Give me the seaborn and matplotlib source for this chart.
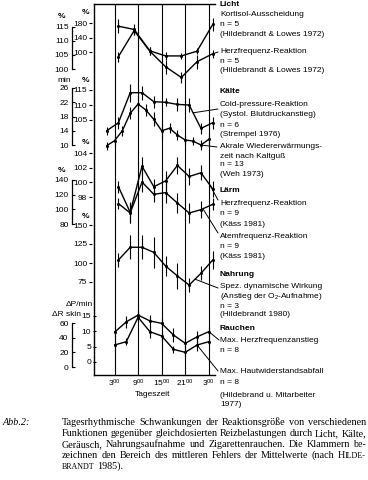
import numpy as np
import matplotlib
matplotlib.use("Agg")
import matplotlib.pyplot as plt
import seaborn as sns

# ---- values; x = hour of day (28 = 4 h next morning) ----
hour_ticks = [3, 9, 15, 21, 27]
hour_labels = ["$3^{00}$", "$9^{00}$", "$15^{00}$", "$21^{00}$", "$3^{00}$"]

# Licht
licht_hours = [4, 8, 12, 16, 20, 24, 28]
kortisol = [172, 163, 104, 90, 90, 103, 177]
kortisol_err = [19, 14, 11, 10, 8, 8, 17]
licht_hf = [104.4, 113.6, 106.3, 100.8, 97.0, 102.6, 105.4]
licht_hf_err = [1.8, 1.4, 1.4, 2.4, 2.1, 2.5, 1.4]

# Kälte
cold_hours = [1, 4, 7, 10, 13, 16, 19, 22, 25, 28]
cold_pressure = [101.4, 104.1, 114.1, 114.1, 111.1, 110.9, 110.2, 110.0, 102.2, 104.1]
cold_pressure_err = [1.3, 2.0, 3.0, 2.3, 2.0, 1.3, 2.3, 2.3, 1.7, 2.0]
akral_hours = [1, 3, 5, 7, 9, 11, 13, 15, 17, 19, 21, 23, 25, 27]
akral = [9.8, 11.2, 14.0, 18.9, 21.5, 19.8, 17.2, 14.0, 14.7, 12.8, 11.4, 11.1, 10.0, 11.6]
akral_err = [1.1, 1.4, 1.4, 1.7, 2.2, 1.7, 2.0, 2.2, 1.4, 1.4, 1.4, 1.1, 1.4, 1.4]

# Lärm
laerm_hours = [4, 7, 10, 13, 16, 19, 22, 25, 28]
laerm_hf = [99.4, 95.9, 102.2, 99.4, 100.2, 102.3, 100.8, 101.3, 99.1]
laerm_hf_err = [0.8, 1.4, 1.2, 1.0, 1.4, 1.1, 1.2, 1.0, 1.1]
laerm_af = [107.8, 95.0, 137.2, 120.5, 122.8, 108.6, 95.0, 99.6, 106.8]
laerm_af_err = [8, 14, 14, 11, 14, 14, 14, 12, 8]

# Nahrung
nahrung_hours = [4, 7, 10, 13, 16, 19, 22, 25, 28]
nahrung = [104, 120.7, 120.7, 114, 96, 83, 71, 86.4, 104]
nahrung_err = [9, 16, 16, 20, 13, 17, 9, 9, 12]

# Rauchen
rauch_hours = [3, 6, 9, 12, 15, 18, 21, 24, 27]
rauch_hf = [9.7, 13.1, 15.3, 13.4, 12.6, 8.8, 6.1, 8.2, 9.9]
rauch_hf_err = [1.6, 2.0, 1.6, 2.0, 1.6, 2.3, 1.6, 2.0, 1.6]
rauch_hw = [30, 34.5, 67.8, 48.2, 42.3, 24.1, 20, 30, 34.5]
rauch_hw_err = [7, 5, 7, 8, 7, 5, 7, 8, 5]

right_labels = [
    (4, "Licht", True), (15, "Kortisol-Ausscheidung", False), (25, "n = 5", False),
    (34.3, "(Hildebrandt & Lowes 1972)", False), (51.7, "Herzfrequenz-Reaktion", False),
    (61.7, "n = 5", False), (71, "(Hildebrandt & Lowes 1972)", False),
    (91.7, "Kälte", True), (104.3, "Cold-pressure-Reaktion", False),
    (115, "(Systol. Blutdruckanstieg)", False), (125.5, "n = 6", False),
    (134.5, "(Strempel 1976)", False), (146.7, "Akrale Wiedererwärmungs-", False),
    (156, "zeit nach Kaltguß", False), (165, "n = 13", False), (174.3, "(Weh 1973)", False),
    (191, "Lärm", True), (203.3, "Herzfrequenz-Reaktion", False), (213.3, "n = 9", False),
    (224.3, "(Käss 1981)", False), (236.7, "Atemfrequenz-Reaktion", False),
    (246.7, "n = 9", False), (256.7, "(Käss 1981)", False),
    (275, "Nahrung", True), (286, "Spez. dynamische Wirkung", False),
    (296.7, "(Anstieg der O$_2$-Aufnahme)", False), (306, "n = 3", False),
    (315, "(Hildebrandt 1980)", False), (329, "Rauchen", True),
    (340, "Max. Herzfrequenzanstieg", False), (350, "n = 8", False),
    (371.7, "Max. Hautwiderstandsabfall", False), (382.3, "n = 8", False),
    (395.7, "(Hildebrand u. Mitarbeiter", False), (404.3, "1977)", False),
]

caption = [
    "Tagesrhythmische Schwankungen der Reaktionsgröße von verschiedenen",
    "Funktionen gegenüber gleichdosierten Reizbelastungen durch Licht, Kälte,",
    "Geräusch, Nahrungsaufnahme und Zigarettenrauchen. Die Klammern be-",
    "zeichnen den Bereich des mittleren Fehlers der Mittelwerte (nach HILDE-",
    "BRANDT 1985).",
]

# ---- style ----
W, H = 368, 480
sns.set_theme(style="white")
plt.rcParams["font.family"] = ["Liberation Sans", "DejaVu Sans"]
plt.rcParams.update({
    "text.color": "black", "axes.edgecolor": "black", "axes.labelcolor": "black",
    "xtick.color": "black", "ytick.color": "black",
    "mathtext.fontset": "custom", "mathtext.rm": "Liberation Sans",
    "mathtext.it": "Liberation Sans", "mathtext.bf": "Liberation Sans:bold",
})

fig = plt.figure(figsize=(W / 100, H / 100), dpi=100)


def fx(x):
    return x / W


def fy(y):
    return 1 - y / H


# plot frame in reference pixels
X0, X1, Y0, Y1 = 94, 214.7, 4, 375
H3_PX, PX_PER_H = 114.5, 3.93
rect = [fx(X0), fy(Y1), fx(X1) - fx(X0), fy(Y0) - fy(Y1)]
xlim = (3 - (H3_PX - X0) / PX_PER_H, 3 + (X1 - H3_PX) / PX_PER_H)

main = fig.add_axes(rect)
main.patch.set_visible(False)
main.set_xlim(*xlim)
main.set_ylim(0, 1)
main.set_yticks([])
for s in ["top", "left", "bottom"]:
    main.spines[s].set_linewidth(1.0)
main.spines["right"].set_visible(False)
for h in hour_ticks:
    main.axvline(h, color="black", lw=0.8)
main.set_xticks(hour_ticks, hour_labels)
main.tick_params(axis="x", bottom=True, length=0, pad=2.2, labelsize=6)


def scale_axes(top, bottom, ticks, outer, spine_x=None):
    (v1, p1), (v2, p2) = top, bottom
    per_px = (v1 - v2) / (p2 - p1)
    ax = fig.add_axes(rect, sharex=main)
    ax.patch.set_visible(False)
    ax.set_ylim(v2 - (Y1 - p2) * per_px, v1 + (p1 - Y0) * per_px)
    for s in ["top", "right", "bottom"]:
        ax.spines[s].set_visible(False)
    ax.set_yticks(ticks)
    ax.tick_params(axis="x", bottom=False, labelbottom=False)
    left = ax.spines["left"]
    if outer:
        left.set_position(("outward", (X0 - 72) * 0.72))
        left.set_bounds(min(ticks), max(ticks))
        left.set_linewidth(0.9)
        ax.tick_params(axis="y", left=True, direction="in", length=2, width=0.8,
                       pad=2.5, labelsize=6)
    else:
        sx = 92 if spine_x is None else spine_x
        left.set_position(("outward", (X0 - sx) * 0.72))
        left.set_visible(False)
        ax.tick_params(axis="y", left=True, direction="out", length=2.5, width=0.8,
                       pad=1, labelsize=6)
    return ax


def series(ax, hours, vals, err):
    sns.lineplot(x=hours, y=vals, ax=ax, color="black", linewidth=1.0,
                 marker="o", markersize=2.2, markeredgewidth=0)
    ax.errorbar(hours, vals, yerr=err, fmt="none", ecolor="black",
                elinewidth=0.8, capsize=0)
    ax.set_xlabel("")
    ax.set_ylabel("")


def leader(ax, h, hours, vals, tx, ty):
    ax.annotate("", xy=(h, np.interp(h, hours, vals)), xytext=(fx(tx), fy(ty)),
                textcoords="figure fraction",
                arrowprops=dict(arrowstyle="-", lw=0.7, color="black",
                                shrinkA=0, shrinkB=0))


licht_in = scale_axes((180, 23.3), (100, 52.3), [180, 140, 100], False)
licht_out = scale_axes((115, 26.7), (100, 69), [115, 110, 105, 100], True)
kaelte_in = scale_axes((115, 90), (105, 120), [115, 110, 105], False)
kaelte_out = scale_axes((26, 88), (10, 145), [26, 22, 18, 14, 10], True)
laerm_in = scale_axes((104, 153), (98, 197), [104, 102, 100, 98], False)
laerm_out = scale_axes((140, 180), (80, 224), [140, 120, 100, 80], True)
nahr_ax = scale_axes((150, 225), (75, 282), [150, 125, 100, 75], False)
rauch_in = scale_axes((15, 316), (0, 362), [15, 10, 5, 0], False, spine_x=96)
rauch_out = scale_axes((60, 323), (0, 367), [60, 40, 20, 0], True)

series(licht_in, licht_hours, kortisol, kortisol_err)
series(licht_out, licht_hours, licht_hf, licht_hf_err)
series(kaelte_in, cold_hours, cold_pressure, cold_pressure_err)
series(kaelte_out, akral_hours, akral, akral_err)
series(laerm_in, laerm_hours, laerm_hf, laerm_hf_err)
series(laerm_out, laerm_hours, laerm_af, laerm_af_err)
series(nahr_ax, nahrung_hours, nahrung, nahrung_err)
series(rauch_in, rauch_hours, rauch_hf, rauch_hf_err)
series(rauch_out, rauch_hours, rauch_hw, rauch_hw_err)

leader(licht_out, 28, licht_hours, licht_hf, 218, 52)
leader(kaelte_in, 23, cold_hours, cold_pressure, 218, 109)
leader(kaelte_out, 25, akral_hours, akral, 217, 147)
leader(laerm_in, 27.3, laerm_hours, laerm_hf, 218, 200)
leader(laerm_out, 25.5, laerm_hours, laerm_af, 218, 233)
leader(nahr_ax, 23.5, nahrung_hours, nahrung, 218, 288)
leader(rauch_in, 27, rauch_hours, rauch_hf, 219, 340)
leader(rauch_out, 24, rauch_hours, rauch_hw, 218, 371)

main.set_xlim(*xlim)

# unit labels of the stacked scales
for x, y, s, ha in [(62, 17, "%", "center"), (86, 13, "%", "center"),
                    (64, 80, "min", "center"), (86, 81, "%", "center"),
                    (86, 142, "%", "center"), (62, 170, "%", "center"),
                    (86, 217, "%", "center"),
                    (93, 305, "ΔP/min", "right"), (81, 314, "ΔR skin", "right")]:
    fig.text(fx(x), fy(y), s, fontsize=6, ha=ha, va="center",
             fontweight="bold" if s == "%" else "normal")

for y, s, bold in right_labels:
    fig.text(fx(220), fy(y), s, fontsize=6, ha="left", va="center",
             fontweight="bold" if bold else "normal")

fig.text(fx(153), fy(395), "Tageszeit", fontsize=6, ha="center", va="center")

# ---- caption (serif, justified) ----
renderer = fig.canvas.get_renderer()
SERIF = "Liberation Serif"
CAP_X0, CAP_X1 = 62, 366
probe = fig.text(0, 0, caption[0], fontsize=10, family=SERIF)
cap_size = 10 * 300 / probe.get_window_extent(renderer).width
probe.remove()


def word_parts(w):
    if w == "HILDE-":
        return [("H", 1.0), ("ILDE-", 0.78)]
    if w == "BRANDT":
        return [("BRANDT", 0.78)]
    return [(w, 1.0)]


def draw_line(line, y, justify):
    words = []
    for w in line.split():
        parts = []
        for s, k in word_parts(w):
            t = fig.text(0, fy(y + 3), s, fontsize=cap_size * k, family=SERIF,
                         va="baseline", ha="left")
            parts.append((t, t.get_window_extent(renderer).width))
        words.append(parts)
    total = sum(w for parts in words for _, w in parts)
    gap = (CAP_X1 - CAP_X0 - total) / (len(words) - 1) if justify else cap_size * 0.35
    x = CAP_X0
    for parts in words:
        for t, w in parts:
            t.set_x(fx(x))
            x += w
        x += gap


fig.text(fx(3), fy(422 + 3), "Abb.2:", fontsize=cap_size, family=SERIF,
         style="italic", va="baseline", ha="left")
for i, line in enumerate(caption):
    draw_line(line, 422 + 11 * i, i < len(caption) - 1)

fig.savefig("out.png", dpi=100)
